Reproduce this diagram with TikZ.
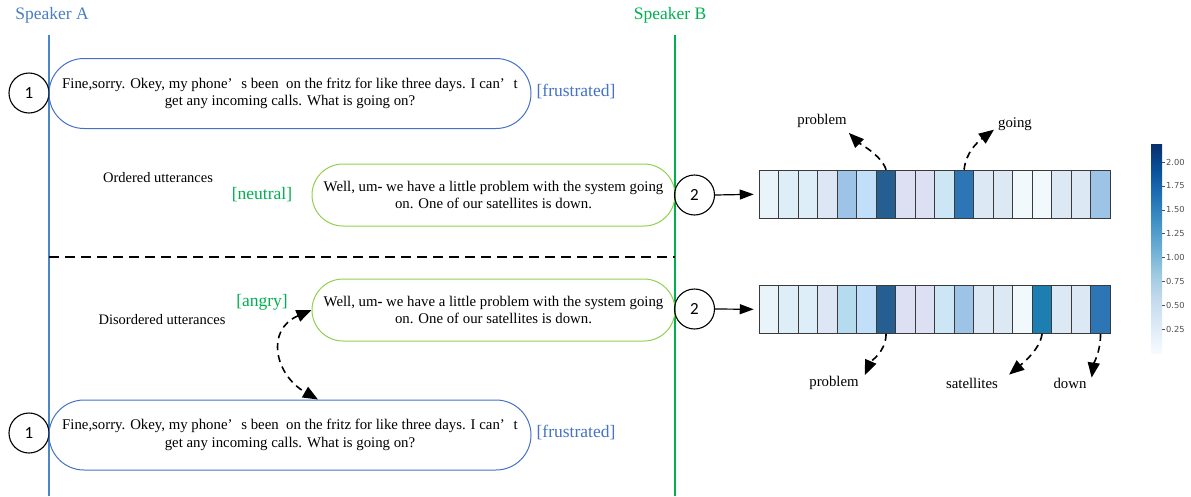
\documentclass[tikz,border=0pt]{standalone}
\usepackage{fontspec}
\setmainfont{Liberation Serif}
\newfontfamily\numfont{Carlito}
\newfontfamily\tickfont{DejaVu Sans}
\usetikzlibrary{arrows.meta,calc}

\definecolor{spkA}{HTML}{4A7EC0}
\definecolor{lineA}{HTML}{4A86C8}
\definecolor{spkB}{HTML}{00B050}
\definecolor{bubA}{HTML}{4472C4}
\definecolor{bubB}{HTML}{92D050}
\definecolor{cellline}{HTML}{3A3A3A}
\definecolor{ticktext}{HTML}{505050}

% Blues colour map for the colour bar (bottom = 0, top = max)
\definecolor{cb0}{HTML}{F7FBFF}
\definecolor{cb1}{HTML}{DEEBF7}
\definecolor{cb2}{HTML}{C6DBEF}
\definecolor{cb3}{HTML}{9ECAE1}
\definecolor{cb4}{HTML}{6BAED6}
\definecolor{cb5}{HTML}{4292C6}
\definecolor{cb6}{HTML}{2171B5}
\definecolor{cb7}{HTML}{08519C}
\definecolor{cb8}{HTML}{08306B}
\pgfdeclareverticalshading{bluesbar}{100bp}{%
  color(0bp)=(cb0); color(25bp)=(cb0); color(31.25bp)=(cb1);
  color(37.5bp)=(cb2); color(43.75bp)=(cb3); color(50bp)=(cb4);
  color(56.25bp)=(cb5); color(62.5bp)=(cb6); color(68.75bp)=(cb7);
  color(75bp)=(cb8); color(100bp)=(cb8)}

\begin{document}
\begin{tikzpicture}[x=1pt,y=-1pt,
  utter/.style={draw, align=center, inner sep=0pt,
    font=\fontsize{14.8}{17.5}\selectfont},
  bubA/.style={utter, draw=bubA, line width=1pt, minimum width=482pt,
    minimum height=70pt, rounded corners=35pt},
  bubB/.style={utter, draw=bubB, line width=1pt, minimum width=363pt,
    minimum height=62pt, rounded corners=31pt},
  num/.style={draw, circle, minimum size=40pt, inner sep=0pt, line width=1.1pt,
    font=\numfont\fontsize{17}{17}\selectfont},
  emo/.style={font=\fontsize{17.5}{17.5}\selectfont},
  caption/.style={font=\fontsize{14.5}{15}\selectfont},
  word/.style={font=\fontsize{14.8}{15}\selectfont, inner sep=0pt},
  cell/.style={draw=cellline, line width=1.1pt, minimum width=19.5pt,
    minimum height=48pt, inner sep=0pt},
  dashline/.style={line width=1.6pt, dash pattern=on 7pt off 5pt},
  bigtip/.style={-{Triangle[length=15pt,width=12pt]}},
  feed/.style={-{Triangle[length=14pt,width=10pt]}, line width=1.2pt},
  tick/.style={draw=ticktext, line width=0.5pt}
]
\useasboundingbox (0,0) rectangle (1191,496);

% speaker time lines
\node[emo, text=spkA] (spA) at (52,15) {Speaker A};
\node[emo, text=spkB] (spB) at (670,15) {Speaker B};
\coordinate (aTop) at (49,35);  \coordinate (aBot) at (49,496);
\coordinate (bTop) at (675,35); \coordinate (bBot) at (675,496);
\draw[draw=lineA, line width=1.2pt] (aTop) -- (aBot);
\draw[draw=spkB, line width=1.2pt] (bTop) -- (bBot);

% divider between the two orderings
\coordinate (divL) at (49,257); \coordinate (divR) at (675,257);
\draw[line width=1.3pt, dash pattern=on 10pt off 6pt] (divL) -- (divR);

% ordered utterances
\node[num] (n1a) at (29,93) {1};
\node[bubA] (bA1) at (290,93.5)
  {Fine,sorry. Okey, my phone’\hspace{0.6em}s been\ \ on the fritz for like three days. I can’\hspace{0.6em}t\\
   get any incoming calls. What is going on?};
\node[emo, text=bubA] (fr1) at (576,92) {[frustrated]};
\node[caption] (ord) at (158,178) {Ordered utterances};
\node[emo, text=spkB] (neu) at (262,195) {[neutral]};
\node[bubB] (gB1) at (493.5,195)
  {Well, um\textbf{-} we have a little problem with the system going\\
   on. One of our satellites is down.};
\node[num] (n2a) at (694.5,195) {2};

% disordered utterances
\node[emo, text=spkB] (ang) at (262,302) {[angry]};
\node[caption] (dis) at (162,320) {Disordered utterances};
\node[bubB] (gB2) at (493.5,310)
  {Well, um\textbf{-} we have a little problem with the system going\\
   on. One of our satellites is down.};
\node[num] (n2b) at (694.5,309) {2};
\node[num] (n1b) at (29,433) {1};
\node[bubA] (bA2) at (290,435)
  {Fine,sorry. Okey, my phone’\hspace{0.6em}s been\ \ on the fritz for like three days. I can’\hspace{0.6em}t\\
   get any incoming calls. What is going on?};
\node[emo, text=bubA] (fr2) at (576,433) {[frustrated]};

\draw[dashline, {Triangle[length=15pt,width=12pt]}-{Triangle[length=15pt,width=12pt]}]
  (gB2.west) .. controls (265,330) and (275,375) .. ($(bA2.north)+(28,0)$);

% attention heat maps
\foreach \c [count=\i] in {E8F3FA,DDEEF8,DDEEF8,DCE6F4,9DC3E6,C2DFF9,255F91,DCE0F2,DCE0F2,
                          CCE6F6,2E75B6,DCE8F4,DCE8F4,F2F9FD,F2F9FD,DCE8F4,DCE8F4,9DC3E6} {
  \definecolor{cellfill}{HTML}{\c}
  \node[cell, fill=cellfill] (t\i) at ({759.3+(\i-0.5)*19.5},194.3) {};
}
\foreach \c [count=\i] in {E8F3FA,DDEEF8,DDEEF8,DCE6F4,B4DCEE,C2DFF9,255F91,DCE0F2,DCE0F2,
                          CCE6F6,9DC3E6,DCE8F4,DCE8F4,F2F9FD,1D7EB1,DCE8F4,DCE8F4,2E75B6} {
  \definecolor{cellfill}{HTML}{\c}
  \node[cell, fill=cellfill] (u\i) at ({759.3+(\i-0.5)*19.5},309.3) {};
}
\draw[feed] (n2a.east) -- ([xshift=-5pt]t1.west);
\draw[feed] (n2b.east) -- ([xshift=-5pt]u1.west);

% highlighted words
\node[word] (wp1) at (822,121) {problem};
\node[word] (wg)  at (1015,124) {going};
\node[word] (wp2) at (834,383) {problem};
\node[word] (ws)  at (972,383) {satellites};
\node[word] (wd)  at (1070,383) {down};

\draw[dashline, bigtip] (t7.north) .. controls +(-4,-14) and +(10,10) .. ($(wp1.south east)+(2,5)$);
\draw[dashline, bigtip] (t11.north) .. controls +(2,-18) and +(-16,12) .. ($(wg.south west)+(-4,-1)$);
\draw[dashline, bigtip] (u7.south) .. controls +(0,18) and +(6,-14) .. ($(wp2.north east)+(6,-1)$);
\draw[dashline, bigtip] (u15.south) .. controls +(-2,16) and +(12,-10) .. ($(ws.north east)+(11,-3)$);
\draw[dashline, bigtip] (u18.south) .. controls +(0,18) and +(2,-14) .. ($(wd.north east)+(5,0)$);

% colour bar
\shade[shading=bluesbar] (1151,144) rectangle (1162,353);
\foreach \v/\lab in {2.00/2.00,1.75/1.75,1.50/1.50,1.25/1.25,1.00/1.00,0.75/0.75,0.50/0.50,0.25/0.25} {
  \draw[tick] (1162,{353-\v*95.5}) -- (1165,{353-\v*95.5});
  \node[anchor=west, inner sep=0pt, text=ticktext, font=\tickfont\fontsize{8.3}{9}\selectfont]
    at (1166,{353-\v*95.5}) {\lab};
}
\end{tikzpicture}
\end{document}
